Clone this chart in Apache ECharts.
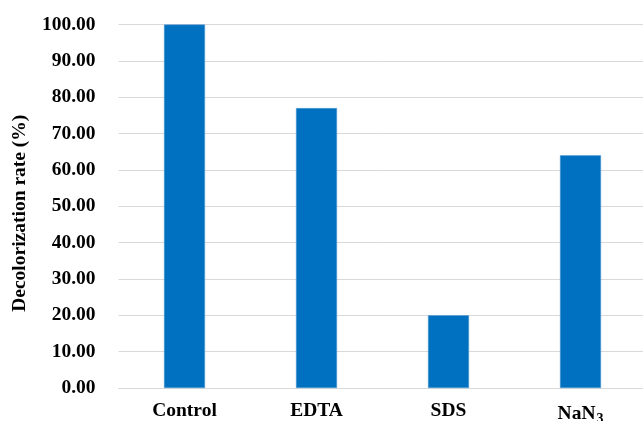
<!DOCTYPE html>
<html>
<head>
<meta charset="utf-8">
<script src="https://cdn.jsdelivr.net/npm/echarts@6/dist/echarts.min.js"></script>
<style>
  html, body { margin: 0; padding: 0; background: #fff; }
  #chart { width: 643px; height: 421px; }
</style>
</head>
<body>
<div id="chart"></div>
<script>
// Treatments and their decolorization rates (%)
const categories = ['Control', 'EDTA', 'SDS', 'NaN3'];
const rates = [100.0, 77.0, 20.0, 64.0];
const yTicks = { min: 0, max: 100, interval: 10 };

const FONT = '"Liberation Serif", "Times New Roman", serif';
const SIZE = 19.5;

const chart = echarts.init(document.getElementById('chart'));
chart.setOption({
  backgroundColor: '#ffffff',
  animation: false,
  grid: {
    left: 118.5, top: 24.5, width: 528, height: 363.5,
    containLabel: false, outerBoundsMode: 'none'
  },
  xAxis: {
    type: 'category',
    data: categories,
    axisLine: { show: true, lineStyle: { color: '#d9d9d9', width: 1 } },
    axisTick: { show: false },
    axisLabel: {
      interval: 0,
      hideOverlap: false,
      margin: 13,
      fontFamily: FONT,
      fontWeight: 'bold',
      fontSize: SIZE,
      color: '#000',
      formatter: function (v) {
        return v === 'NaN3' ? '{b|NaN}{s|3}' : '{b|' + v + '}';
      },
      rich: {
        b: { fontFamily: FONT, fontWeight: 'bold', fontSize: SIZE, color: '#000' },
        s: { fontFamily: FONT, fontWeight: 'bold', fontSize: 14, color: '#000', verticalAlign: 'bottom', padding: [11, 0, 0, 1] }
      }
    }
  },
  yAxis: {
    type: 'value',
    min: yTicks.min,
    max: yTicks.max,
    interval: yTicks.interval,
    name: 'Decolorization rate (%)',
    nameLocation: 'middle',
    nameGap: 89,
    nameRotate: 90,
    nameTextStyle: {
      fontFamily: FONT, fontWeight: 'bold', fontSize: SIZE, color: '#000',
      padding: [0, 14, 0, 0]
    },
    axisLine: { show: false },
    axisTick: { show: false },
    splitLine: { show: true, lineStyle: { color: '#d9d9d9', width: 1 } },
    axisLabel: {
      margin: 23,
      fontFamily: FONT,
      fontWeight: 'bold',
      fontSize: SIZE,
      color: '#000',
      formatter: function (v) { return v.toFixed(2); }
    }
  },
  series: [{
    type: 'bar',
    data: rates,
    barWidth: 41,
    itemStyle: { color: '#0070C0', borderColor: '#5B9BD5', borderWidth: 0.5 }
  }]
});
</script>
</body>
</html>
